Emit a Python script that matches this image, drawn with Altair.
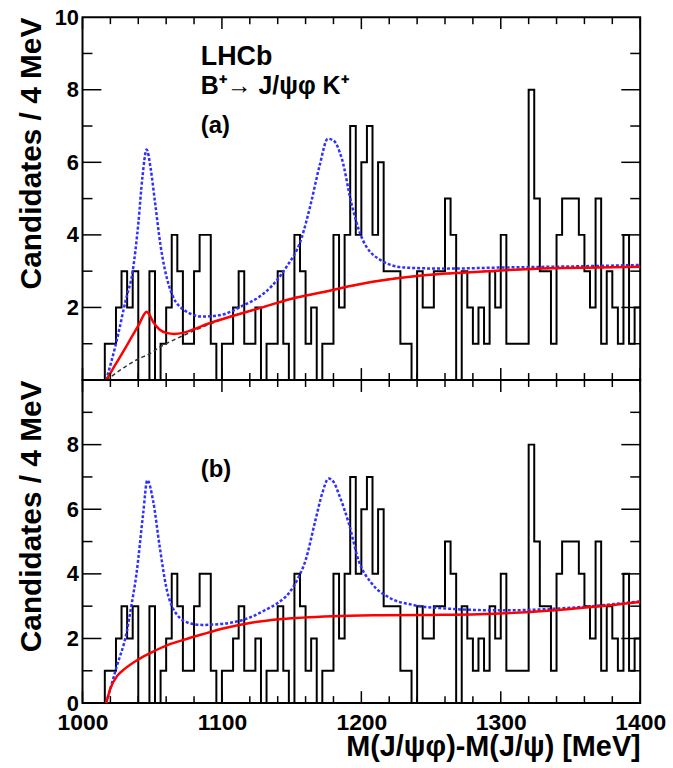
import altair as alt
import pandas as pd

FONT = "Liberation Sans"

# ---------------- data ----------------
BIN_START = 1000
BIN_WIDTH = 4
counts = [0, 0, 0, 0, 1, 1, 2, 3, 2, 3,
          0, 0, 3, 0, 1, 2, 4, 3, 1, 1,
          3, 4, 4, 1, 0, 1, 1, 2, 3, 1,
          1, 2, 0, 1, 1, 3, 1, 0, 4, 3,
          1, 2, 0, 1, 1, 4, 2, 4, 7, 4,
          6, 7, 4, 6, 3, 3, 3, 1, 1, 0,
          3, 2, 2, 3, 3, 5, 4, 0, 3, 2,
          1, 2, 1, 3, 2, 4, 1, 1, 1, 1,
          8, 5, 3, 3, 1, 4, 5, 5, 5, 4,
          3, 2, 5, 1, 3, 2, 1, 4, 1, 2]

# panel (a): total fit (blue dotted)
a_tot_m = [1017, 1024, 1031, 1036, 1040, 1043, 1046, 1049, 1052, 1056, 1062, 1072,
           1086, 1100, 1115, 1127, 1136, 1146, 1157, 1164, 1170, 1176, 1180, 1186,
           1193, 1200, 1214, 1231, 1260, 1300, 1350, 1400]
a_tot_v = [0.0, 1.0, 2.2, 3.0, 4.3, 5.6, 6.35, 5.8, 4.9, 3.7, 2.6, 1.95,
           1.75, 1.8, 2.05, 2.3, 2.6, 3.1, 3.9, 4.9, 5.9, 6.65, 6.6, 6.1,
           4.85, 3.95, 3.3, 3.1, 3.07, 3.1, 3.13, 3.17]
# panel (a): background + small signal (red)
a_red_m = [1017, 1024, 1031, 1037, 1041, 1044, 1046, 1048, 1051, 1055, 1060, 1066,
           1072, 1080, 1090, 1103, 1127, 1150, 1172, 1207, 1243, 1274, 1300, 1336,
           1370, 1400]
a_red_v = [0.0, 0.45, 0.9, 1.3, 1.57, 1.8, 1.88, 1.8, 1.58, 1.4, 1.3, 1.27,
           1.3, 1.4, 1.55, 1.71, 1.98, 2.24, 2.42, 2.7, 2.88, 2.96, 3.02, 3.08,
           3.1, 3.12]
# panel (a): background only (black dashed)
a_bkg_m = [1017, 1020, 1030, 1040, 1048, 1056, 1064, 1072, 1080, 1090, 1103, 1127,
           1150, 1172, 1207, 1243, 1274, 1300, 1336, 1370, 1400]
a_bkg_v = [0.0, 0.08, 0.35, 0.58, 0.72, 0.92, 1.08, 1.22, 1.36, 1.52, 1.71, 1.98,
           2.24, 2.42, 2.7, 2.88, 2.96, 3.02, 3.08, 3.1, 3.12]

# panel (b): total fit (blue dotted)
b_tot_m = [1017, 1024.5, 1031.5, 1035, 1038.7, 1043.5, 1046.5, 1050.6, 1055.4, 1060,
           1067, 1077, 1086, 1100, 1108, 1120, 1131, 1140, 1148, 1155, 1160, 1167,
           1172, 1176.5, 1180, 1184, 1191, 1198, 1207.5, 1219, 1238, 1260, 1300,
           1350, 1400]
b_tot_v = [0.0, 1.13, 2.16, 3.0, 4.0, 5.86, 6.9, 6.27, 4.83, 3.6,
           2.78, 2.47, 2.42, 2.45, 2.5, 2.65, 2.88, 3.1, 3.4, 3.9, 4.42, 5.65,
           6.5, 6.95, 6.85, 6.45, 5.56, 4.42, 3.7, 3.29, 3.03, 2.93, 2.87,
           2.95, 3.15]
# panel (b): background (red)
b_red_m = [1017, 1020, 1025, 1030, 1040, 1050, 1060, 1072, 1086, 1100, 1120, 1143,
           1179, 1215, 1250, 1284, 1331, 1367, 1400]
b_red_v = [0.0, 0.45, 0.85, 1.05, 1.35, 1.58, 1.78, 1.95, 2.13, 2.3, 2.48, 2.6,
           2.69, 2.72, 2.73, 2.75, 2.85, 2.98, 3.13]

x_major = [1000, 1100, 1200, 1300, 1400]
x_minor = [1020, 1040, 1060, 1080, 1120, 1140, 1160, 1180, 1220, 1240, 1260, 1280,
           1320, 1340, 1360, 1380]
y_major = [2, 4, 6, 8]
y_minor = [1, 3, 5, 7, 9]
y_labels_a = [2, 4, 6, 8, 10]
y_labels_b = [0, 2, 4, 6, 8]

x_title = "M(J/ψφ)-M(J/ψ) [MeV]"
y_title = "Candidates / 4 MeV"
text_a = ["LHCb", "B⁺→ J/ψφ K⁺", "(a)"]
text_b = ["(b)"]

# ---------------- build ----------------
W = 561
H_A = 365
H_B = 325

edges = [BIN_START + BIN_WIDTH * i for i in range(len(counts) + 1)]
hist = pd.DataFrame({"m": edges, "n": counts + [counts[-1]]})

xscale = alt.Scale(domain=[1000, 1400], nice=False, zero=False)
yscale = alt.Scale(domain=[0, 10], nice=False, zero=False)


def y_axis(labels):
    return alt.Axis(values=labels, title=y_title, titleAnchor="end", ticks=False,
                    domain=False, grid=False, labelFlush=False, labelPadding=4,
                    minExtent=30, maxExtent=30, titlePadding=6, format="d")


def x_axis(show):
    if not show:
        return None
    return alt.Axis(values=x_major, title=x_title, titleAnchor="end", ticks=False,
                    domain=False, grid=False, labelFlush=False, labelPadding=9,
                    labelOverlap=False, titlePadding=-2, format="d")


def panel(H, ylabels, show_x, curves, texts):
    xa = x_axis(show_x)
    ya = y_axis(ylabels)
    X = lambda f: alt.X(f, scale=xscale, axis=xa, title=x_title)
    Y = lambda f: alt.Y(f, scale=yscale, axis=ya, title=y_title)

    layers = [alt.Chart(hist).mark_line(interpolate="step-after", color="black",
                                        strokeWidth=2).encode(x=X("m:Q"), y=Y("n:Q"))]
    for ms, vs, color, width, dash in curves:
        kw = dict(interpolate="monotone", color=color, strokeWidth=width, clip=True)
        if dash:
            kw["strokeDash"] = dash
        layers.append(alt.Chart(pd.DataFrame({"m": ms, "v": vs})).mark_line(**kw).encode(
            x=X("m:Q"), y=Y("v:Q")))
    for vals, ln in ((x_major, 12), (x_minor, 7)):
        df = pd.DataFrame({"m": vals})
        layers.append(alt.Chart(df).mark_rule(color="black", strokeWidth=1.5).encode(
            x=X("m:Q"), y=alt.value(H), y2=alt.value(H - ln)))
        layers.append(alt.Chart(df).mark_rule(color="black", strokeWidth=1.5).encode(
            x=X("m:Q"), y=alt.value(0), y2=alt.value(ln)))
    for vals, ln in ((y_major, 19), (y_minor, 10)):
        df = pd.DataFrame({"v": vals})
        layers.append(alt.Chart(df).mark_rule(color="black", strokeWidth=1.5).encode(
            y=Y("v:Q"), x=alt.value(0), x2=alt.value(ln)))
        layers.append(alt.Chart(df).mark_rule(color="black", strokeWidth=1.5).encode(
            y=Y("v:Q"), x=alt.value(W), x2=alt.value(W - ln)))
    for txt, x, y, size in texts:
        layers.append(alt.Chart(pd.DataFrame({"t": [txt]})).mark_text(
            align="left", baseline="alphabetic", fontSize=size, fontWeight="bold",
            font=FONT, color="black").encode(x=alt.value(x), y=alt.value(y), text="t:N"))
    return alt.layer(*layers).properties(width=W, height=H)


top = panel(
    H_A, y_labels_a, False,
    [(a_bkg_m, a_bkg_v, "#333333", 1.5, [4, 3]),
     (a_tot_m, a_tot_v, "#2f2fff", 2.5, [3, 2]),
     (a_red_m, a_red_v, "#ff0000", 2.5, None)],
    [(text_a[0], 119, 48, 27), (text_a[1], 119, 77, 25), (text_a[2], 119, 117, 24)],
)

bottom = panel(
    H_B, y_labels_b, True,
    [(b_tot_m, b_tot_v, "#2f2fff", 2.5, [3, 2]),
     (b_red_m, b_red_v, "#ff0000", 2.5, None)],
    [(text_b[0], 119, 98, 24)],
)

chart = alt.vconcat(top, bottom, spacing=0, bounds="flush").configure_view(
    stroke="black", strokeWidth=2
).configure_axis(
    labelFont=FONT, labelFontWeight="bold", labelFontSize=22, labelColor="black",
    titleFont=FONT, titleFontWeight="bold", titleFontSize=30, titleColor="black",
).configure_axisX(labelFontSize=23, titleFontSize=29).properties(
    padding={"left": 15, "top": 3, "right": 6, "bottom": 0}
)

chart.save("out.html", embed_options={"renderer": "svg", "actions": False})
